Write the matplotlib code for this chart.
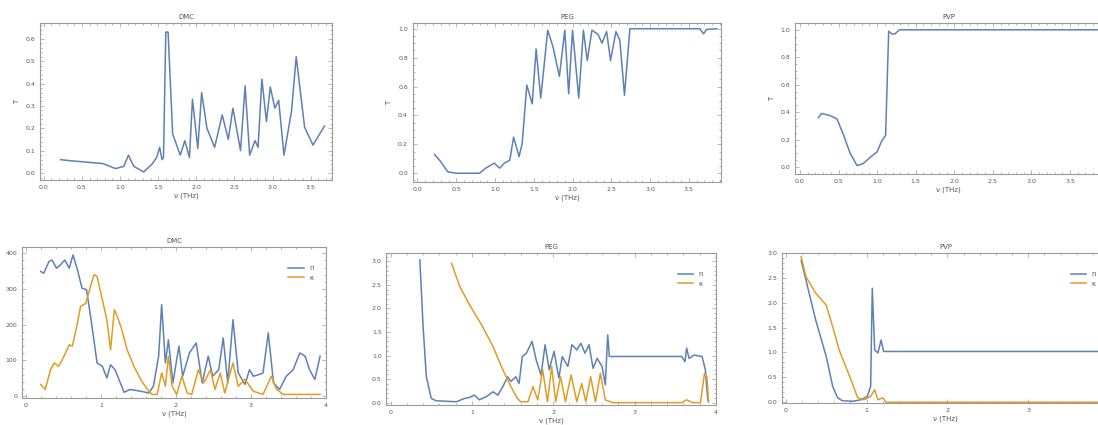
import matplotlib.pyplot as plt
from matplotlib.ticker import MultipleLocator

# top row: transmission-like curves
dmc_top_x = [0.22, 0.35, 0.52, 0.65, 0.78, 0.94, 1.05, 1.11, 1.18, 1.31, 1.42, 1.48, 1.52, 1.55,
             1.57, 1.60, 1.63, 1.69, 1.79, 1.85, 1.91, 1.95, 2.02, 2.07, 2.14, 2.24, 2.34, 2.42,
             2.48, 2.58, 2.64, 2.70, 2.77, 2.81, 2.86, 2.92, 2.97, 3.03, 3.08, 3.15, 3.25, 3.31,
             3.42, 3.53, 3.68]
dmc_top_y = [0.06, 0.055, 0.05, 0.046, 0.042, 0.02, 0.03, 0.08, 0.03, 0.005, 0.04, 0.07, 0.115, 0.06,
             0.07, 0.63, 0.63, 0.175, 0.08, 0.145, 0.07, 0.33, 0.11, 0.36, 0.20, 0.115, 0.26, 0.15,
             0.29, 0.10, 0.39, 0.08, 0.145, 0.115, 0.42, 0.23, 0.385, 0.29, 0.325, 0.08, 0.28, 0.52,
             0.205, 0.125, 0.21]

peg_top_x = [0.22, 0.30, 0.39, 0.50, 0.80, 0.88, 0.99, 1.06, 1.12, 1.19, 1.24, 1.31, 1.35, 1.41,
             1.48, 1.53, 1.59, 1.68, 1.75, 1.83, 1.90, 1.95, 2.00, 2.08, 2.14, 2.19, 2.25, 2.33,
             2.38, 2.44, 2.49, 2.56, 2.61, 2.67, 2.74, 3.64, 3.69, 3.73, 3.86]
peg_top_y = [0.13, 0.08, 0.01, 0.0, 0.0, 0.035, 0.07, 0.035, 0.07, 0.09, 0.25, 0.115, 0.205, 0.61,
             0.48, 0.86, 0.52, 0.99, 0.87, 0.67, 0.99, 0.55, 0.99, 0.52, 0.99, 0.78, 0.99, 0.96,
             0.90, 0.98, 0.78, 0.98, 0.92, 0.54, 1.0, 1.0, 0.965, 0.995, 1.0]

pvp_top_x = [0.24, 0.28, 0.39, 0.48, 0.56, 0.65, 0.74, 0.82, 0.91, 1.00, 1.06, 1.11, 1.15, 1.19,
             1.23, 1.29, 3.92]
pvp_top_y = [0.36, 0.39, 0.375, 0.35, 0.24, 0.10, 0.01, 0.025, 0.07, 0.11, 0.19, 0.23, 0.99, 0.97,
             0.97, 1.0, 1.0]

# bottom row: two series each
dmc_n_x = [0.20, 0.24, 0.31, 0.35, 0.41, 0.46, 0.52, 0.58, 0.63, 0.69, 0.75, 0.81, 0.87, 0.95,
           1.02, 1.08, 1.13, 1.19, 1.31, 1.39, 1.53, 1.64, 1.70, 1.77, 1.81, 1.86, 1.90, 1.96,
           2.04, 2.09, 2.18, 2.27, 2.35, 2.43, 2.49, 2.57, 2.63, 2.69, 2.76, 2.83, 2.92, 2.98,
           3.03, 3.10, 3.16, 3.23, 3.30, 3.38, 3.47, 3.56, 3.65, 3.72, 3.78, 3.85, 3.92]
dmc_n_y = [349, 344, 377, 381, 358, 367, 381, 358, 395, 353, 302, 298, 214, 93,
           84, 51, 88, 74, 11, 19, 14, 9, 28, 112, 256, 93, 158, 37,
           140, 56, 121, 149, 37, 112, 56, 74, 163, 37, 214, 65, 33, 74,
           56, 60, 65, 177, 37, 19, 56, 74, 121, 112, 74, 47, 112]
dmc_k_x = [0.20, 0.26, 0.33, 0.38, 0.44, 0.51, 0.58, 0.62, 0.68, 0.73, 0.80, 0.85, 0.91, 0.95,
           1.02, 1.08, 1.13, 1.18, 1.22, 1.28, 1.35, 1.44, 1.53, 1.62, 1.68, 1.75, 1.81, 1.86,
           1.90, 1.95, 2.01, 2.08, 2.15, 2.21, 2.30, 2.37, 2.46, 2.52, 2.59, 2.65, 2.76, 2.83,
           2.92, 3.03, 3.16, 3.27, 3.34, 3.43, 3.92]
dmc_k_y = [33, 19, 74, 93, 84, 112, 144, 140, 195, 251, 260, 298, 340, 335,
           270, 214, 130, 242, 223, 186, 130, 84, 47, 19, 5, 5, 65, 28,
           112, 28, 5, 56, 9, 5, 74, 37, 74, 19, 65, 9, 93, 28,
           47, 14, 5, 56, 19, 5, 5]

peg_n_x = [0.36, 0.40, 0.44, 0.50, 0.56, 0.81, 0.91, 0.97, 1.03, 1.09, 1.18, 1.26, 1.32, 1.38,
           1.44, 1.48, 1.54, 1.58, 1.62, 1.67, 1.74, 1.79, 1.85, 1.90, 1.95, 2.01, 2.07, 2.11,
           2.18, 2.23, 2.29, 2.34, 2.39, 2.44, 2.49, 2.54, 2.60, 2.64, 2.67, 2.69, 3.58, 3.62,
           3.64, 3.67, 3.73, 3.83, 3.87, 3.90, 3.91]
peg_n_y = [3.03, 1.62, 0.55, 0.09, 0.04, 0.02, 0.09, 0.11, 0.16, 0.06, 0.13, 0.23, 0.16, 0.34,
           0.55, 0.45, 0.55, 0.41, 0.98, 1.05, 1.30, 0.91, 0.59, 1.23, 0.70, 1.09, 0.52, 0.98,
           0.77, 1.23, 1.12, 1.26, 1.05, 1.23, 0.73, 0.94, 0.77, 0.38, 1.44, 0.98, 0.98, 0.87,
           1.16, 0.94, 1.01, 0.98, 0.70, 0.06, 0.02]
peg_k_x = [0.75, 0.85, 0.97, 1.13, 1.26, 1.38, 1.48, 1.56, 1.60, 1.69, 1.75, 1.81, 1.87, 1.93,
           1.98, 2.03, 2.09, 2.15, 2.22, 2.29, 2.35, 2.40, 2.46, 2.52, 2.58, 2.64, 2.73, 3.58,
           3.64, 3.71, 3.81, 3.86, 3.89, 3.91]
peg_k_y = [2.96, 2.47, 2.08, 1.62, 1.19, 0.70, 0.34, 0.09, 0.02, 0.02, 0.34, 0.06, 0.70, 0.02,
           0.77, 0.02, 0.55, 0.02, 0.59, 0.02, 0.41, 0.02, 0.55, 0.02, 0.62, 0.06, 0.0, 0.0,
           0.06, 0.0, 0.0, 0.62, 0.55, 0.02]

pvp_n_x = [0.19, 0.25, 0.37, 0.50, 0.58, 0.64, 0.70, 0.83, 0.93, 1.01, 1.05, 1.07, 1.10, 1.14,
           1.18, 1.21, 1.24, 4.0]
pvp_n_y = [2.85, 2.45, 1.65, 0.92, 0.32, 0.09, 0.03, 0.02, 0.05, 0.12, 0.32, 2.29, 1.05, 0.99,
           1.25, 1.02, 1.02, 1.02]
pvp_k_x = [0.19, 0.25, 0.37, 0.50, 0.58, 0.66, 0.79, 0.89, 0.97, 1.05, 1.10, 1.14, 1.20, 1.24, 4.0]
pvp_k_y = [2.92, 2.52, 2.19, 1.95, 1.52, 1.05, 0.52, 0.09, 0.05, 0.12, 0.25, 0.05, 0.09, 0.0, 0.0]

titles = ["DMC", "PEG", "PVP"]
xlabel = "ν (THz)"
ylabel_top = "T"
legend_labels = ["n", "κ"]
bottom_xticks = [0, 1, 2, 3, 4]

BLUE = "#5E81B5"
ORANGE = "#E19C24"
FRAME = "#9a9a9a"
TXT = "#555555"

plt.rcParams['font.family'] = ['DejaVu Sans']
fig = plt.figure(figsize=(10.98, 4.25), dpi=100)


def style(ax, title, xmaj, xmin, ymaj, ymin):
    for s in ax.spines.values():
        s.set_color(FRAME)
        s.set_linewidth(0.8)
    ax.xaxis.set_major_locator(MultipleLocator(xmaj))
    ax.xaxis.set_minor_locator(MultipleLocator(xmin))
    ax.yaxis.set_major_locator(MultipleLocator(ymaj))
    ax.yaxis.set_minor_locator(MultipleLocator(ymin))
    ax.tick_params(which='both', direction='in', top=True, right=True, color=FRAME,
                   labelsize=4.5, labelcolor=TXT, width=0.5)
    ax.tick_params(which='major', length=3)
    ax.tick_params(which='minor', length=1.5)
    ax.set_title(title, fontsize=5, color=TXT, pad=3)
    ax.set_xlabel(xlabel, fontsize=5, color=TXT, labelpad=2)


# top row
ax = fig.add_axes([0.0364, 0.5765, 0.266, 0.369])
ax.plot(dmc_top_x, dmc_top_y, color=BLUE, lw=1.1)
ax.set_xlim(-0.05, 3.78)
ax.set_ylim(-0.031, 0.67)
style(ax, titles[0], 0.5, 0.1, 0.1, 0.02)
ax.set_ylabel(ylabel_top, fontsize=5, color=TXT)

ax = fig.add_axes([0.376, 0.572, 0.281, 0.374])
ax.plot(peg_top_x, peg_top_y, color=BLUE, lw=1.1)
ax.set_xlim(-0.06, 3.92)
ax.set_ylim(-0.06, 1.04)
style(ax, titles[1], 0.5, 0.1, 0.2, 0.05)
ax.set_ylabel(ylabel_top, fontsize=5, color=TXT)

ax = fig.add_axes([0.724, 0.591, 0.280, 0.355])
ax.plot(pvp_top_x, pvp_top_y, color=BLUE, lw=1.1)
ax.set_xlim(-0.065, 3.92)
ax.set_ylim(-0.05, 1.05)
style(ax, titles[2], 0.5, 0.1, 0.2, 0.05)
ax.set_ylabel(ylabel_top, fontsize=5, color=TXT)

# bottom row
bottom = [
    ([0.020, 0.0635, 0.277, 0.355], dmc_n_x, dmc_n_y, dmc_k_x, dmc_k_y, (-5, 417), 100, 20),
    ([0.352, 0.047, 0.300, 0.358], peg_n_x, peg_n_y, peg_k_x, peg_k_y, (-0.05, 3.18), 0.5, 0.1),
    ([0.712, 0.052, 0.298, 0.353], pvp_n_x, pvp_n_y, pvp_k_x, pvp_k_y, (-0.013, 3.0), 0.5, 0.1),
]
for i, (pos, nx, ny, kx, ky, ylim, ymaj, ymin) in enumerate(bottom):
    ax = fig.add_axes(pos)
    ax.plot(nx, ny, color=BLUE, lw=1.1, label=legend_labels[0])
    ax.plot(kx, ky, color=ORANGE, lw=1.1, label=legend_labels[1])
    ax.set_xlim(-0.05, 4.0)
    ax.set_ylim(*ylim)
    style(ax, titles[i], 1, 0.2, ymaj, ymin)
    if i == 2:
        # the right panel runs past the figure edge, so its last label is not drawn
        ax.set_xticks(bottom_xticks)
        ax.set_xticklabels([str(t) for t in bottom_xticks[:-1]] + [""])
    ax.legend(loc='upper right', frameon=False, fontsize=5, handlelength=2.2,
              bbox_to_anchor=(0.98, 0.92), labelcolor=TXT)

fig.savefig("out.png", dpi=100)
